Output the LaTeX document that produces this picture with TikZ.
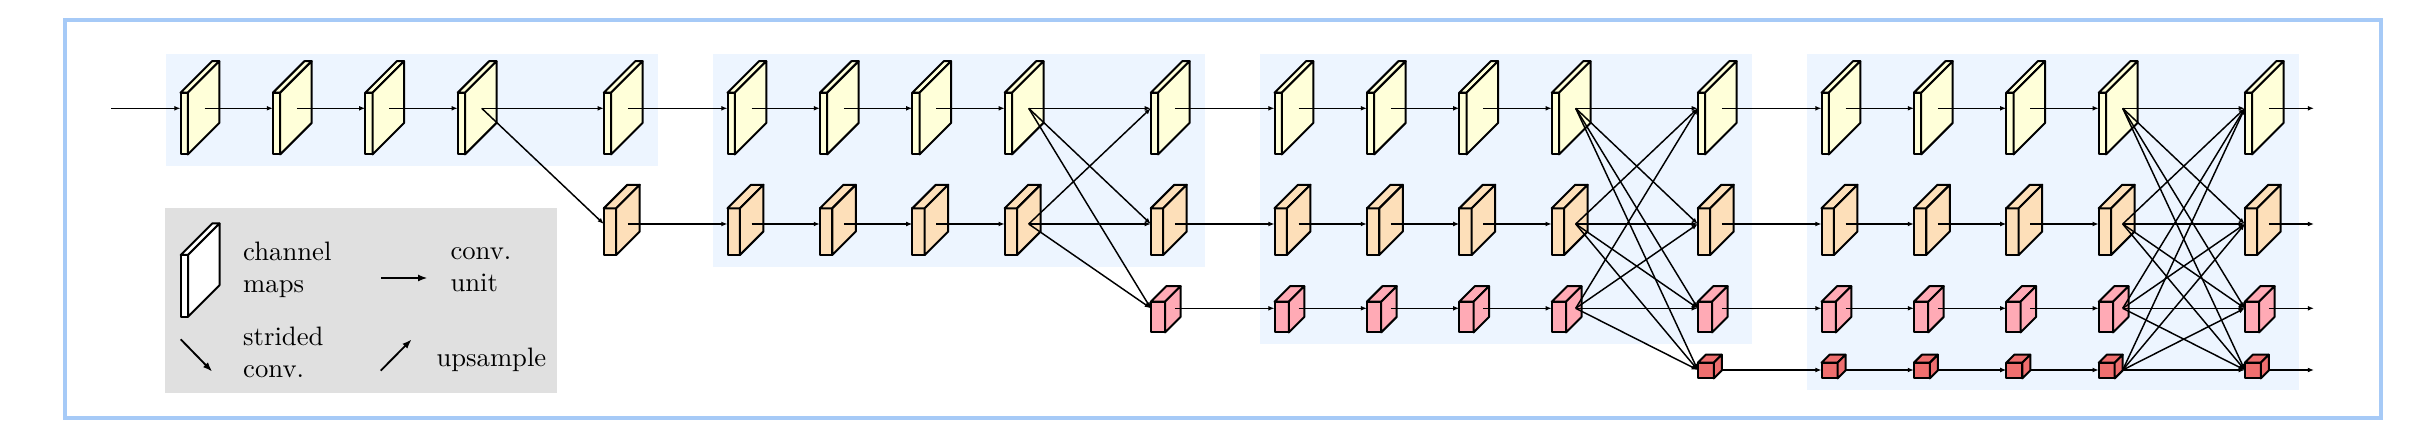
\documentclass[tikz,border=0pt]{standalone}
\usetikzlibrary{arrows.meta}
\definecolor{cyel}{HTML}{FFFFD9}
\definecolor{cpea}{HTML}{FDDFB9}
\definecolor{cpink}{HTML}{FFAAB5}
\definecolor{cred}{HTML}{EF6F6F}
\definecolor{stagec}{HTML}{EDF5FF}
\definecolor{legendc}{HTML}{E0E0E0}
\definecolor{framec}{HTML}{A6CAF7}
\tikzset{
  cubeface/.style={draw=black, line width=0.75pt, line join=round},
  conn/.style={line width=0.55pt, -{Latex[length=2.3pt,width=1.8pt]}},
  legarrow/.style={line width=0.7pt, -{Latex[length=3.6pt,width=2.6pt]}},
  lgtext/.style={anchor=west, align=left, inner sep=0pt, font=\fontsize{10}{12}\selectfont},
}
\newcommand{\cubeblk}[8]{%
  \filldraw[cubeface, fill=#8] (#2,#4) rectangle ++(#5,#6);
  \filldraw[cubeface, fill=#8] (#2,#4) -- ++(#7,-#7) -- ++(#5,0) -- ++(-#7,#7) -- cycle;
  \filldraw[cubeface, fill=#8] ({#2+#5},#4) -- ++(#7,-#7) -- ++(0,#6) -- ++(-#7,#7) -- cycle;
  \coordinate (#1-in) at (#2,#3);
  \coordinate (#1-out) at ({#2+24},#3);
}
\begin{document}
\begin{tikzpicture}[x=0.375pt, y=-0.375pt]
\useasboundingbox (0,0) rectangle (2420,434);
\draw[framec, line width=1.5pt] (65,20) rectangle (2381,418);
% stage backgrounds
\foreach \s/\bot in {1/166,2/267,3/344,4/390} {
  \pgfmathsetmacro\X{180.5+547*(\s-1)}
  \fill[stagec] ({\X-15},54) rectangle ({\X+477},\bot);
}
% blocks
\foreach \s in {1,...,4} {
  \foreach \c/\off in {1/0,2/92.4,3/184.8,4/277.2,5/423.3} {
    \foreach \r/\Y/\T/\w/\h/\d/\col in {1/108.3/92.7/7.3/61.7/31.5/cyel, 2/224/208.3/12.4/46.7/23.5/cpea, 3/308.3/301.7/14.3/30.7/15.5/cpink, 4/370/362.7/16/15.7/8/cred} {
      \pgfmathtruncatemacro\maxr{\c==5 ? min(\s+1,4) : \s}
      \ifnum\r>\maxr\relax\else
        \pgfmathsetmacro\X{180.5+547*(\s-1)+\off}
        \cubeblk{b\s\c\r}{\X}{\Y}{\T}{\w}{\h}{\d}{\col}
      \fi
    }
  }
}
% free ends
\coordinate (in0) at (111,108.3);
\foreach \j/\Y in {1/108.3,2/224,3/308.3,4/370} { \coordinate (out\j) at (2314,\Y); }
% connectors
\draw[conn] (in0) -- (b111-in);
\foreach \s in {1,...,4} {
  \foreach \r in {1,...,\s} {
    \foreach \c [evaluate=\c as \n using int(\c+1)] in {1,2,3} {
      \draw[conn] (b\s\c\r-out) -- (b\s\n\r-in);
    }
  }
}
\foreach \s in {1,...,4} {
  \pgfmathtruncatemacro\m{min(\s+1,4)}
  \foreach \i in {1,...,\s} {
    \foreach \j in {1,...,\m} {
      \draw[conn] (b\s4\i-out) -- (b\s5\j-in);
    }
  }
}
\foreach \s [evaluate=\s as \t using int(\s+1)] in {1,2,3} {
  \pgfmathtruncatemacro\m{\s+1}
  \foreach \j in {1,...,\m} {
    \draw[conn] (b\s5\j-out) -- (b\t1\j-in);
  }
}
\foreach \j in {1,...,4} { \draw[conn] (b45\j-out) -- (out\j); }
% legend
\fill[legendc] (165,208.3) rectangle (557,393.3);
\cubeblk{lg}{180.7}{270}{255}{7.3}{61.7}{31.5}{white}
\node[lgtext] (lgmaps) at (242.7,270) {channel\\maps};
\coordinate (lca) at (381,278);
\coordinate (lcb) at (427.7,278);
\draw[legarrow] (lca) -- (lcb);
\node[lgtext] (lgconv) at (450,270) {conv.\\unit};
\coordinate (lsa) at (180.7,339.3);
\coordinate (lsb) at (212.3,371.7);
\draw[legarrow] (lsa) -- (lsb);
\node[lgtext] (lgstr) at (242.7,352) {strided\\conv.};
\coordinate (lua) at (380.7,370.7);
\coordinate (lub) at (411.7,339.3);
\draw[legarrow] (lua) -- (lub);
\node[lgtext] (lgup) at (436,360) {upsample};
\end{tikzpicture}
\end{document}
